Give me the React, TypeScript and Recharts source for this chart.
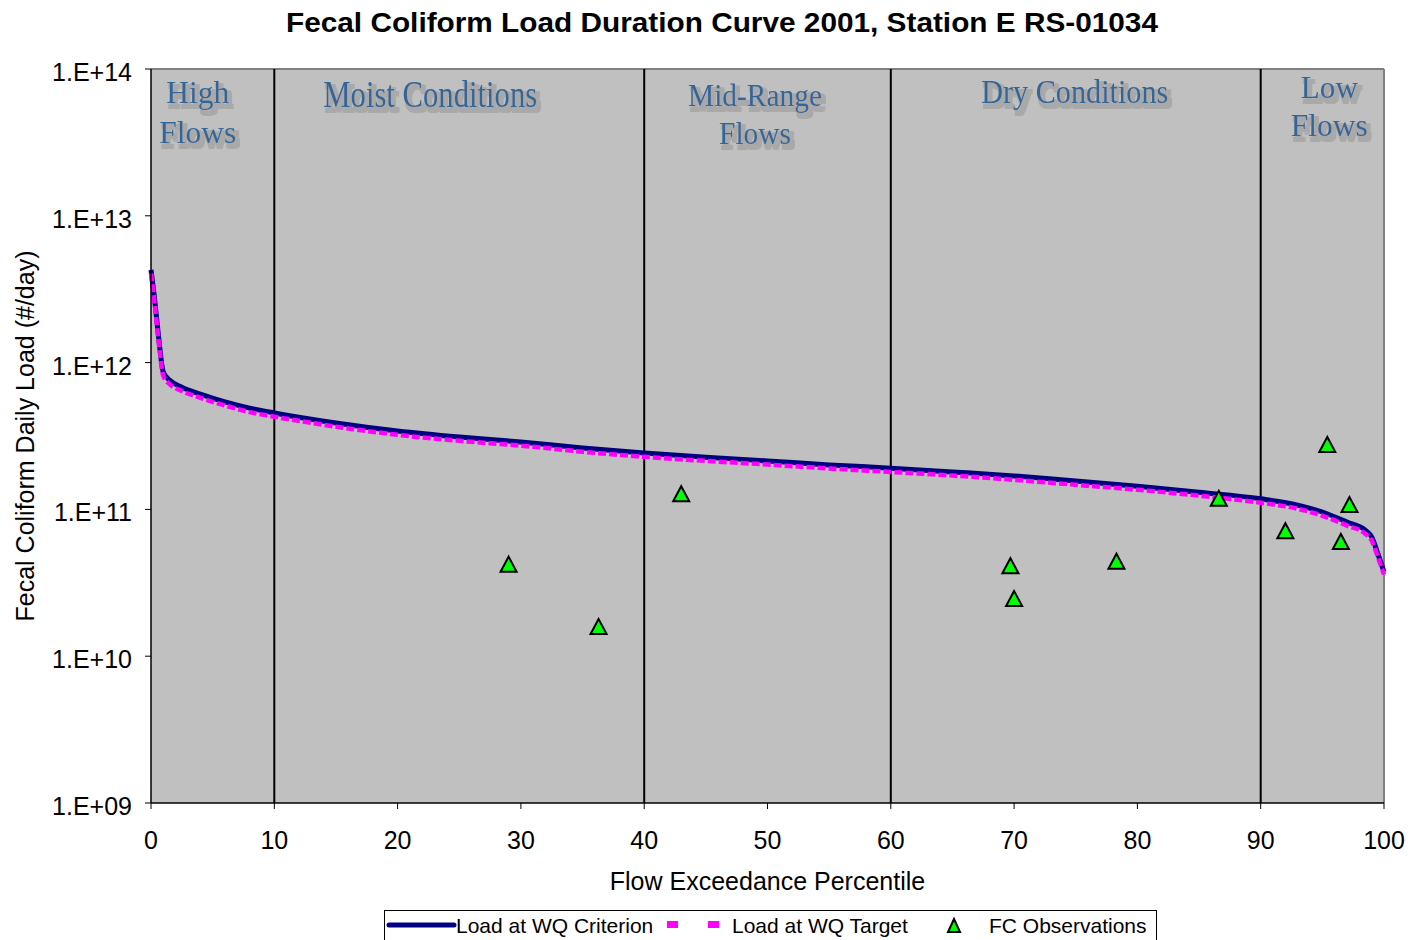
import React from 'react'
import {
  ComposedChart,
  Line,
  Scatter,
  XAxis,
  YAxis,
  CartesianGrid,
  ReferenceLine,
  ReferenceArea
} from 'recharts'

// flow exceedance percentile for the duration curves
const curvePercentiles = [
  0, 0.3, 0.6, 1, 1.5, 2.5, 4, 6, 8, 10, 15, 20, 25, 30, 35, 40, 45, 50, 55, 60,
  65, 70, 75, 80, 85, 90, 93, 95, 97, 98.5, 99, 99.5, 100
]

// load at WQ criterion (#/day)
const criterionLoads = [
  4.28e12, 2.67e12, 1.54e12, 8.6e11, 7.6e11, 6.8e11, 6.1e11, 5.4e11, 4.9e11, 4.54e11,
  3.88e11, 3.42e11, 3.11e11, 2.88e11, 2.62e11, 2.42e11, 2.27e11, 2.14e11, 2.01e11, 1.91e11,
  1.8e11, 1.69e11, 1.56e11, 1.44e11, 1.31e11, 1.18e11, 1.07e11, 9.6e10, 8.2e10, 7.2e10,
  6.5e10, 5.0e10, 3.75e10
]

// load at WQ target (#/day)
const targetLoads = [
  4.05e12, 2.5e12, 1.45e12, 8.1e11, 7.15e11, 6.4e11, 5.75e11, 5.1e11, 4.6e11, 4.28e11,
  3.66e11, 3.22e11, 2.93e11, 2.72e11, 2.47e11, 2.28e11, 2.14e11, 2.02e11, 1.9e11, 1.8e11,
  1.7e11, 1.59e11, 1.47e11, 1.36e11, 1.24e11, 1.11e11, 1.01e11, 9.05e10, 7.75e10, 6.8e10,
  6.15e10, 4.75e10, 3.6e10
]

// FC observations
const obsPercentiles = [29.0, 36.3, 43.0, 69.7, 70.0, 78.3, 86.6, 92.0, 95.4, 96.5, 97.2]
const obsLoads = [4.2e10, 1.58e10, 1.27e11, 4.1e10, 2.45e10, 4.4e10, 1.18e11, 7.1e10, 2.75e11, 6.0e10, 1.07e11]

const xTicks = [0, 10, 20, 30, 40, 50, 60, 70, 80, 90, 100]
const yTicks = [1e9, 1e10, 1e11, 1e12, 1e13, 1e14]
const regionBreaks = [10, 40, 60, 90]

const regions = [
  { x1: 0, x2: 10, lines: ['High', 'Flows'] },
  { x1: 10, x2: 40, lines: ['Moist Conditions'] },
  { x1: 40, x2: 60, lines: ['Mid-Range', 'Flows'] },
  { x1: 60, x2: 90, lines: ['Dry Conditions'] },
  { x1: 90, x2: 100, lines: ['Low', 'Flows'] }
]

// how each region title sits inside its band
const regionStyle = [
  { dx: -15, size: 32, rows: [{ dy: 34, w: 63 }, { dy: 74, w: 77 }] },
  { dx: -29, size: 38, rows: [{ dy: 38, w: 214 }] },
  { dx: -12.5, size: 32, rows: [{ dy: 37, w: 134 }, { dy: 75, w: 72 }] },
  { dx: -1, size: 33, rows: [{ dy: 34, w: 187 }] },
  { dx: 7, size: 32, rows: [{ dy: 29, w: 57 }, { dy: 67, w: 77 }] }
]

const criterionData = curvePercentiles.map((x, i) => ({ x, v: criterionLoads[i] }))
const targetData = curvePercentiles.map((x, i) => ({ x, v: targetLoads[i] }))
const obsData = obsPercentiles.map((x, i) => ({ x, v: obsLoads[i] }))

const SANS = '"Liberation Sans", Arial, sans-serif'
const SERIF = '"Liberation Serif", "Times New Roman", serif'

function fmtExp(v: number) {
  return '1.E+' + String(Math.round(Math.log10(v))).padStart(2, '0')
}

function Triangle(props: any) {
  const { cx, cy } = props
  if (cx == null || cy == null) return null
  return (
    <polygon
      points={`${cx},${cy - 8} ${cx - 8},${cy + 7} ${cx + 8},${cy + 7}`}
      fill="#00FF00"
      stroke="#000"
      strokeWidth={2}
    />
  )
}

function YTick(props: any) {
  const { x, y, payload } = props
  return (
    <text x={x} y={y + 3} textAnchor="end" dominantBaseline="central" fontSize={25} fontFamily={SANS} fill="#000">
      {fmtExp(payload.value)}
    </text>
  )
}

function regionLabel(idx: number) {
  return (props: any) => {
    const vb = props.viewBox
    if (!vb) return null
    const st = regionStyle[idx]
    const cx = vb.x + vb.width / 2 + st.dx
    return (
      <g>
        {idx === 0 && (
          <defs>
            <filter id="xlShadow" x="-20%" y="-40%" width="150%" height="190%">
              <feMorphology in="SourceAlpha" operator="dilate" radius="1.5" result="fat" />
              <feOffset in="fat" dx="3" dy="4" result="moved" />
              <feFlood floodColor="#a9a9a9" />
              <feComposite in2="moved" operator="in" result="shade" />
              <feMerge>
                <feMergeNode in="shade" />
                <feMergeNode in="SourceGraphic" />
              </feMerge>
            </filter>
          </defs>
        )}
        {regions[idx].lines.map((t, k) => {
          const row = st.rows[k]
          return (
            <text
              key={k}
              x={cx}
              y={vb.y + row.dy}
              textAnchor="middle"
              fontFamily={SERIF}
              fontSize={st.size}
              fill="#336699"
              textLength={row.w}
              lengthAdjust="spacingAndGlyphs"
              filter="url(#xlShadow)"
            >
              {t}
            </text>
          )
        })}
      </g>
    )
  }
}

export default function App() {
  return (
    <div
      style={{
        position: 'absolute',
        left: 0,
        top: 0,
        width: 1408,
        height: 940,
        background: '#fff',
        fontFamily: SANS,
        overflow: 'hidden'
      }}
    >
      <ComposedChart width={1408} height={940} margin={{ top: 69, right: 24, bottom: 0, left: 0 }}>
        <CartesianGrid fill="#C0C0C0" horizontal={false} vertical={false} stroke="none" />
        <XAxis
          type="number"
          dataKey="x"
          domain={[0, 100]}
          ticks={xTicks}
          interval={0}
          height={137}
          tickSize={6}
          tickMargin={22}
          axisLine={{ stroke: '#000', strokeWidth: 1.5 }}
          tickLine={{ stroke: '#000' }}
          tick={{ fill: '#000', fontSize: 25, fontFamily: SANS }}
          label={(p: any) => {
            const vb = p.viewBox
            return (
              <text x={vb.x + vb.width / 2} y={vb.y + 87} textAnchor="middle" fontSize={25} fontFamily={SANS} fill="#000">
                Flow Exceedance Percentile
              </text>
            )
          }}
        />
        <YAxis
          type="number"
          scale="log"
          domain={[1e9, 1e14]}
          allowDataOverflow
          ticks={yTicks}
          interval={0}
          width={151}
          tickSize={6}
          tickMargin={13}
          axisLine={{ stroke: '#000', strokeWidth: 1.5 }}
          tickLine={{ stroke: '#000' }}
          tick={<YTick />}
          label={(p: any) => {
            const vb = p.viewBox
            const cy = vb.y + vb.height / 2
            return (
              <text
                x={25}
                y={cy}
                textAnchor="middle"
                dominantBaseline="central"
                transform={`rotate(-90, 25, ${cy})`}
                fontSize={25}
                fontFamily={SANS}
                fill="#000"
              >
                Fecal Coliform Daily Load (#/day)
              </text>
            )
          }}
        />
        <ReferenceLine y={1e14} stroke="#808080" strokeWidth={2} />
        <ReferenceLine x={100} stroke="#808080" strokeWidth={2} />
        {regions.map((r, i) => (
          <ReferenceArea key={i} x1={r.x1} x2={r.x2} fill="none" fillOpacity={0} stroke="none" label={regionLabel(i)} />
        ))}
        {regionBreaks.map(b => (
          <ReferenceLine key={b} x={b} stroke="#000" strokeWidth={2} />
        ))}
        <Line
          data={criterionData}
          dataKey="v"
          type="monotone"
          stroke="#000080"
          strokeWidth={5}
          dot={false}
          isAnimationActive={false}
        />
        <Line
          data={targetData}
          dataKey="v"
          type="monotone"
          stroke="#FF00FF"
          strokeWidth={4.5}
          strokeDasharray="8 3"
          dot={false}
          isAnimationActive={false}
        />
        <Scatter data={obsData} dataKey="v" shape={<Triangle />} isAnimationActive={false} />
      </ComposedChart>

      <svg width={1408} height={940} style={{ position: 'absolute', left: 0, top: 0, pointerEvents: 'none' }}>
        <text
          x={722}
          y={32}
          textAnchor="middle"
          fontFamily={SANS}
          fontWeight="bold"
          fontSize={27}
          textLength={872}
          lengthAdjust="spacingAndGlyphs"
          fill="#000"
        >
          Fecal Coliform Load Duration Curve 2001, Station E RS-01034
        </text>

        <rect x={384.5} y={910.5} width={772} height={40} fill="#fff" stroke="#000" strokeWidth={1} />
        <line x1={389} y1={925} x2={454} y2={925} stroke="#000080" strokeWidth={5} strokeLinecap="round" />
        <text x={456} y={933} fontFamily={SANS} fontSize={21} fill="#000">Load at WQ Criterion</text>
        <rect x={667} y={921} width={11} height={7} fill="#FF00FF" />
        <rect x={708} y={921} width={11} height={7} fill="#FF00FF" />
        <text x={732} y={933} fontFamily={SANS} fontSize={21} fill="#000">Load at WQ Target</text>
        <polygon points="954,919 948,932 960,932" fill="#00FF00" stroke="#000" strokeWidth={2} />
        <text x={989} y={933} fontFamily={SANS} fontSize={21} fill="#000">FC Observations</text>
      </svg>
    </div>
  )
}
